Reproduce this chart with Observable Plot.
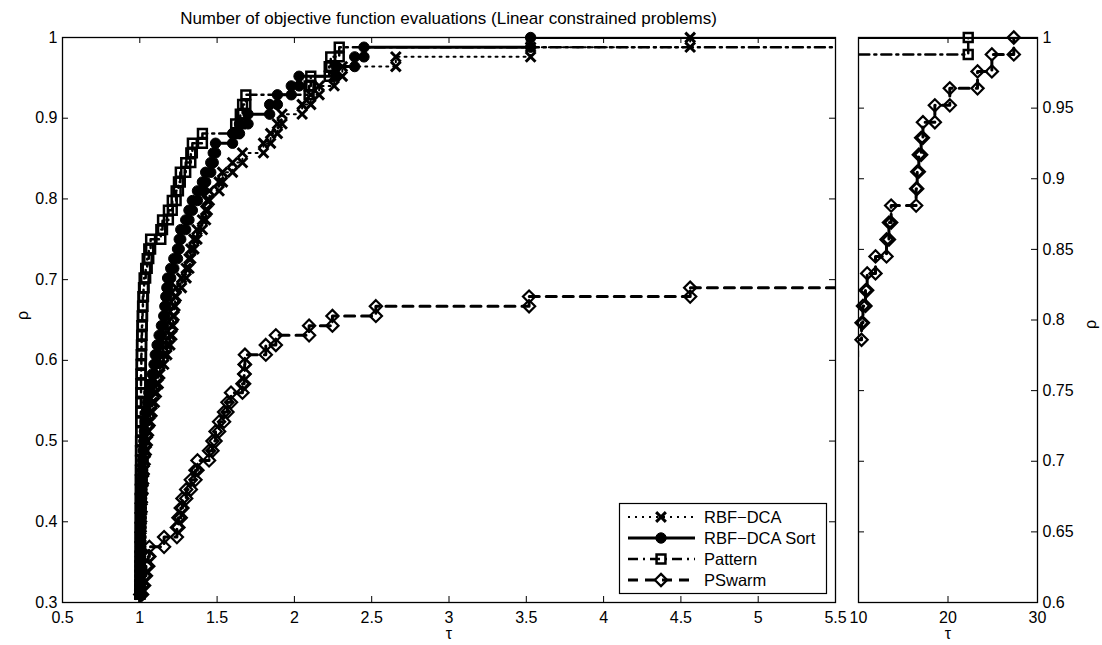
<!DOCTYPE html>
<html>
<head>
<meta charset="utf-8">
<script src="https://cdn.jsdelivr.net/npm/d3@7"></script>
<script src="https://cdn.jsdelivr.net/npm/@observablehq/plot@0.6"></script>
<style>
  body { margin: 0; background: #fff; }
  #wrap { position: relative; width: 1102px; height: 645px; overflow: hidden; background: #fff; }
  #wrap svg { position: absolute; top: 0; }
</style>
</head>
<body>
<div id="wrap"></div>
<script>
// ---------------- data ----------------
const title = "Number of objective function evaluations (Linear constrained problems)";
const seriesNames = ["RBF\u2212DCA", "RBF\u2212DCA Sort", "Pattern", "PSwarm"];
const xLabel = "\u03c4";
const yLabel = "\u03c1";

const leftXTicks = [0.5, 1, 1.5, 2, 2.5, 3, 3.5, 4, 4.5, 5, 5.5];
const leftYTicks = [0.3, 0.4, 0.5, 0.6, 0.7, 0.8, 0.9, 1];
const rightXTicks = [10, 20, 30];
const rightYTicks = [0.6, 0.65, 0.7, 0.75, 0.8, 0.85, 0.9, 0.95, 1];

// profile levels (fraction of problems solved), shared by all solvers
const rhoLevels = [
  0.298, 0.310, 0.321, 0.333, 0.345, 0.357, 0.369, 0.381, 0.393, 0.405,
  0.417, 0.429, 0.440, 0.452, 0.464, 0.476, 0.488, 0.500, 0.512, 0.524,
  0.536, 0.548, 0.560, 0.571, 0.583, 0.595, 0.607, 0.619, 0.631, 0.643,
  0.655, 0.667, 0.679, 0.690, 0.702, 0.714, 0.726, 0.738, 0.750, 0.762,
  0.774, 0.786, 0.798, 0.810, 0.821, 0.833, 0.845, 0.857, 0.869, 0.881,
  0.893, 0.905, 0.917, 0.929, 0.940, 0.952, 0.964, 0.976, 0.988, 1.000
];

// tau at which each level is reached
const tauRBF = [
  1.000, 1.000, 1.000, 1.001, 1.002, 1.003, 1.004, 1.006, 1.008, 1.010,
  1.013, 1.016, 1.018, 1.022, 1.026, 1.030, 1.036, 1.043, 1.050, 1.058,
  1.068, 1.080, 1.095, 1.108, 1.120, 1.130, 1.155, 1.175, 1.195, 1.208,
  1.215, 1.222, 1.228, 1.236, 1.270, 1.300, 1.318, 1.330, 1.350, 1.370,
  1.405, 1.426, 1.437, 1.450, 1.513, 1.535, 1.600, 1.664, 1.800, 1.846,
  1.890, 1.920, 2.050, 2.106, 2.160, 2.257, 2.310, 2.656, 3.528, 4.560
];
const tauSort = [
  1.000, 1.000, 1.001, 1.002, 1.003, 1.004, 1.005, 1.006, 1.007, 1.008,
  1.009, 1.010, 1.012, 1.014, 1.016, 1.019, 1.022, 1.026, 1.030, 1.035,
  1.040, 1.048, 1.058, 1.068, 1.080, 1.092, 1.100, 1.112, 1.125, 1.140,
  1.155, 1.162, 1.168, 1.175, 1.180, 1.200, 1.220, 1.244, 1.255, 1.265,
  1.297, 1.318, 1.340, 1.373, 1.405, 1.426, 1.459, 1.475, 1.490, 1.600,
  1.645, 1.700, 1.840, 1.890, 1.980, 2.030, 2.270, 2.390, 2.450, 3.528
];
const tauPattern = [
  1.000, 1.000, 1.000, 1.001, 1.001, 1.001, 1.002, 1.002, 1.002, 1.003,
  1.003, 1.003, 1.004, 1.004, 1.004, 1.005, 1.005, 1.005, 1.006, 1.006,
  1.006, 1.007, 1.007, 1.008, 1.008, 1.009, 1.010, 1.011, 1.012, 1.014,
  1.016, 1.018, 1.020, 1.024, 1.028, 1.038, 1.048, 1.058, 1.070, 1.136,
  1.147, 1.185, 1.210, 1.235, 1.250, 1.262, 1.297, 1.330, 1.340, 1.405,
  1.620, 1.650, 1.665, 1.686, 2.095, 2.106, 2.225, 2.235, 2.290, 22.26
];
const tauPSwarm = [
  1.000, 1.003, 1.015, 1.028, 1.040, 1.055, 1.062, 1.157, 1.240, 1.250,
  1.265, 1.276, 1.300, 1.330, 1.360, 1.373, 1.448, 1.470, 1.490, 1.513,
  1.545, 1.567, 1.590, 1.664, 1.675, 1.678, 1.680, 1.815, 1.880, 2.095,
  2.246, 2.527, 3.518, 4.560, 5.900, 6.400, 6.900, 7.500, 8.100, 8.700,
  9.300, 9.900, 10.34, 10.50, 10.78, 10.97, 11.90, 13.13, 13.40, 13.65,
  16.44, 16.56, 16.74, 17.00, 17.20, 18.53, 20.20, 23.30, 24.90, 27.35
];

// ---------------- styling ----------------
const fontFamily = "'Liberation Sans', Arial, Helvetica, sans-serif";
const series = [
  {name: seriesNames[0], tau: tauRBF,     dash: "2,5",       width: 2,   symbol: "times",    r: 4.5, fill: "none",  sw: 3},
  {name: seriesNames[1], tau: tauSort,    dash: undefined,   width: 3,   symbol: "circle",   r: 5.2, fill: "black", sw: 1},
  {name: seriesNames[2], tau: tauPattern, dash: "10,5,2,5",  width: 2.5, symbol: "square",   r: 5,   fill: "none",  sw: 2.5},
  {name: seriesNames[3], tau: tauPSwarm,  dash: "10,7",      width: 3,   symbol: "diamond2", r: 5.5, fill: "none",  sw: 2.2}
];

function stairs(taus, rhos) {
  const v = [];
  for (let i = 0; i < taus.length; i++) {
    if (i > 0) v.push({x: taus[i], y: rhos[i - 1]});
    v.push({x: taus[i], y: rhos[i]});
  }
  return v;
}

function seriesMarks(xd, yd) {
  const marks = [];
  const eps = 1e-9;
  for (const s of series) {
    const v = stairs(s.tau, rhoLevels);
    const lineData = v.concat([{x: 1000, y: v[v.length - 1].y}]);
    const lineOpts = {x: "x", y: "y", stroke: "black", strokeWidth: s.width, clip: true};
    if (s.dash) lineOpts.strokeDasharray = s.dash;
    marks.push(Plot.line(lineData, lineOpts));
    const inside = v.filter(d => d.x >= xd[0] - eps && d.x <= xd[1] + eps && d.y >= yd[0] - eps && d.y <= yd[1] + eps);
    marks.push(Plot.dot(inside, {x: "x", y: "y", symbol: s.symbol, r: s.r, stroke: "black", fill: s.fill, strokeWidth: s.sw}));
  }
  return marks;
}

function frameTicks(xt, yt, fw, fh, len) {
  return [
    Plot.tickX(xt, {x: d => d, insetTop: fh - len, stroke: "black"}),
    Plot.tickX(xt, {x: d => d, insetBottom: fh - len, stroke: "black"}),
    Plot.tickY(yt, {y: d => d, insetRight: fw - len, stroke: "black"}),
    Plot.tickY(yt, {y: d => d, insetLeft: fw - len, stroke: "black"})
  ];
}

const H = 645, mTop = 37, mBottom = 43;
const fh = H - mTop - mBottom;

// ---------------- left panel ----------------
const leftW = 845, lML = 62, lMR = 10;
const leftXD = [0.5, 5.5], leftYD = [0.3, 1];
const left = Plot.plot({
  width: leftW, height: H,
  marginLeft: lML, marginRight: lMR, marginTop: mTop, marginBottom: mBottom,
  x: {domain: leftXD},
  y: {domain: leftYD},
  style: {fontFamily, fontSize: "16px", background: "transparent", overflow: "visible", color: "black"},
  marks: [
    ...seriesMarks(leftXD, leftYD),
    ...frameTicks(leftXTicks, leftYTicks, leftW - lML - lMR, fh, 6),
    Plot.frame({stroke: "black", strokeWidth: 1.3}),
    Plot.axisX(leftXTicks, {tickSize: 0, tickPadding: 9, fontSize: 16, tickFormat: d => String(d), label: null}),
    Plot.axisY(leftYTicks, {tickSize: 0, tickPadding: 5, fontSize: 16, tickFormat: d => String(d), label: null}),
    Plot.text([xLabel], {frameAnchor: "bottom", dy: 36, fontSize: 16, text: d => d}),
    Plot.text([yLabel], {frameAnchor: "left", dx: -40, rotate: -90, fontSize: 16, text: d => d})
  ]
});
left.style.left = "0px";

// ---------------- right panel ----------------
const rightLeft = 845, rightW = 257, rML = 13, rMR = 65;
const rightXD = [10, 30], rightYD = [0.6, 1];
const right = Plot.plot({
  width: rightW, height: H,
  marginLeft: rML, marginRight: rMR, marginTop: mTop, marginBottom: mBottom,
  x: {domain: rightXD},
  y: {domain: rightYD},
  style: {fontFamily, fontSize: "16px", background: "transparent", overflow: "visible", color: "black"},
  marks: [
    ...seriesMarks(rightXD, rightYD),
    ...frameTicks(rightXTicks, rightYTicks, rightW - rML - rMR, fh, 6),
    Plot.frame({stroke: "black", strokeWidth: 1.3}),
    Plot.axisX(rightXTicks, {tickSize: 0, tickPadding: 9, fontSize: 16, tickFormat: d => String(d), label: null}),
    Plot.axisY(rightYTicks, {anchor: "right", tickSize: 0, tickPadding: 5, fontSize: 16, tickFormat: d => String(d), label: null}),
    Plot.text([xLabel], {frameAnchor: "bottom", dy: 36, fontSize: 16, text: d => d}),
    Plot.text([yLabel], {frameAnchor: "right", dx: 53, rotate: -90, fontSize: 16, text: d => d})
  ]
});
right.style.left = rightLeft + "px";

const wrap = document.getElementById("wrap");
wrap.appendChild(left);
wrap.appendChild(right);

// ---------------- title + legend overlay ----------------
const ov = d3.select(wrap).append("svg")
  .attr("width", 1102).attr("height", 645)
  .style("left", "0px").style("pointer-events", "none")
  .attr("font-family", fontFamily);

ov.append("text")
  .attr("x", lML + (leftW - lML - lMR) / 2).attr("y", 24)
  .attr("text-anchor", "middle").attr("font-size", 17).attr("fill", "black")
  .text(title);

const leg = {x0: 619, y0: 503, x1: 826, y1: 593, rows: [517, 538, 559, 580], lx0: 628, lx1: 695, mx: 661, tx: 704};
ov.append("rect")
  .attr("x", leg.x0 + 0.5).attr("y", leg.y0 + 0.5)
  .attr("width", leg.x1 - leg.x0).attr("height", leg.y1 - leg.y0)
  .attr("fill", "white").attr("stroke", "black").attr("stroke-width", 1.2);

const symMap = {times: d3.symbolTimes, circle: d3.symbolCircle, square: d3.symbolSquare, diamond2: d3.symbolDiamond2};
series.forEach((s, i) => {
  const y = leg.rows[i];
  const ln = ov.append("line")
    .attr("x1", leg.lx0).attr("x2", leg.lx1).attr("y1", y).attr("y2", y)
    .attr("stroke", "black").attr("stroke-width", s.width);
  if (s.dash) ln.attr("stroke-dasharray", s.dash);
  ov.append("path")
    .attr("transform", `translate(${leg.mx},${y})`)
    .attr("d", d3.symbol(symMap[s.symbol], Math.PI * s.r * s.r)())
    .attr("fill", s.fill).attr("stroke", "black").attr("stroke-width", s.sw);
  ov.append("text")
    .attr("x", leg.tx).attr("y", y).attr("dy", "0.36em")
    .attr("font-size", 16.5).attr("fill", "black")
    .text(s.name);
});
</script>
</body>
</html>
